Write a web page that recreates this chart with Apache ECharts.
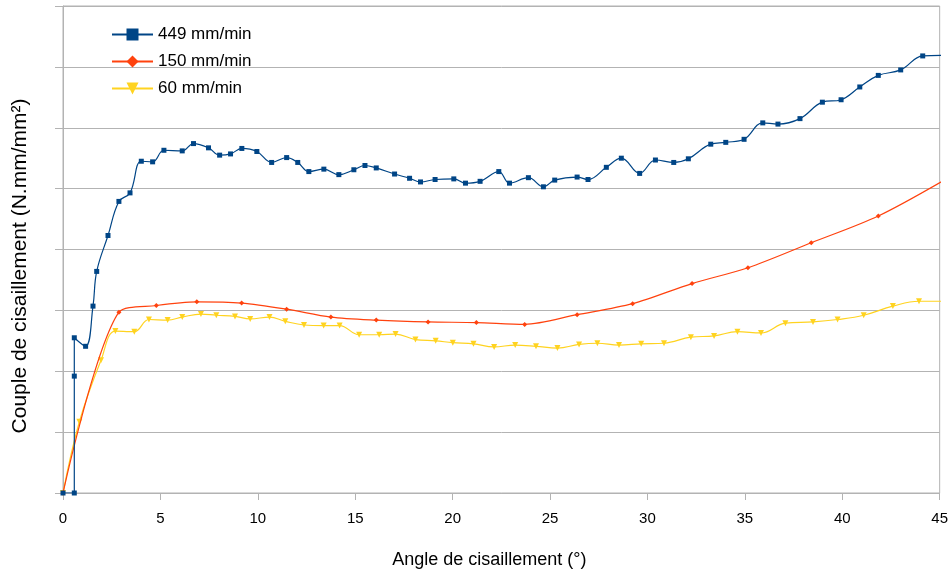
<!DOCTYPE html>
<html>
<head>
<meta charset="UTF-8">
<title>Couple de cisaillement</title>
<style>
    body { margin: 0; background: #ffffff; }
    #main { width: 951px; height: 574px; }
</style>
<script src="https://cdn.jsdelivr.net/npm/echarts@6/dist/echarts.min.js"></script>
</head>
<body>
<div id="main"></div>
<script type="text/javascript">
// angle (°) and couple values, one pair of arrays per speed
var seriesNames = ['449 mm/min', '150 mm/min', '60 mm/min'];
var xTicks = [0, 5, 10, 15, 20, 25, 30, 35, 40, 45];

var angle449 = [0, 0.58, 0.58, 0.58, 1.16, 1.54, 1.73, 2.31, 2.87, 3.44, 4.02, 4.60, 5.18, 6.12, 6.70, 7.47, 8.04, 8.60, 9.18, 9.95,
    10.71, 11.48, 12.05, 12.62, 13.39, 14.16, 14.93, 15.50, 16.08, 17.02, 17.79, 18.35, 19.10, 20.06, 20.66, 21.41, 22.37, 22.92, 23.89, 24.66,
    25.24, 26.39, 26.95, 27.89, 28.66, 29.60, 30.41, 31.35, 32.10, 33.25, 34.02, 34.96, 35.92, 36.70, 37.83, 38.98, 39.94, 40.90, 41.85, 43.00,
    44.13, 45.3];
var couple449 = [0, 0, 1.92, 2.55, 2.41, 3.07, 3.64, 4.23, 4.79, 4.93, 5.45, 5.44, 5.63, 5.62, 5.74, 5.67, 5.55, 5.57, 5.66, 5.61,
    5.43, 5.51, 5.43, 5.28, 5.32, 5.23, 5.31, 5.38, 5.34, 5.24, 5.17, 5.11, 5.15, 5.16, 5.09, 5.12, 5.28, 5.09, 5.18, 5.03,
    5.14, 5.19, 5.15, 5.35, 5.50, 5.25, 5.47, 5.43, 5.49, 5.73, 5.76, 5.81, 6.08, 6.06, 6.15, 6.42, 6.46, 6.67, 6.86, 6.95,
    7.18, 7.19];

var angle150 = [0, 2.87, 4.79, 6.87, 9.17, 11.48, 13.75, 16.08, 18.74, 21.22, 23.70, 26.39, 29.24, 32.29, 35.16, 38.41, 41.85, 45.4];
var couple150 = [0, 2.97, 3.08, 3.14, 3.12, 3.02, 2.89, 2.84, 2.81, 2.80, 2.77, 2.93, 3.11, 3.44, 3.70, 4.11, 4.55, 5.17];

var angle60 = [0, 0.84, 1.95, 2.69, 3.66, 4.41, 5.37, 6.12, 7.08, 7.87, 8.83, 9.61, 10.60, 11.41, 12.37, 13.38, 14.20, 15.20, 16.23, 17.07,
    18.09, 19.13, 20.01, 21.07, 22.13, 23.21, 24.28, 25.38, 26.49, 27.43, 28.54, 29.68, 30.85, 32.23, 33.42, 34.62, 35.83, 37.08, 38.50, 39.76,
    41.10, 42.60, 43.94, 45.5];
var couple60 = [0, 1.17, 2.18, 2.66, 2.65, 2.85, 2.84, 2.89, 2.94, 2.92, 2.90, 2.86, 2.89, 2.82, 2.76, 2.75, 2.75, 2.60, 2.60, 2.61,
    2.52, 2.50, 2.47, 2.45, 2.40, 2.43, 2.41, 2.38, 2.44, 2.46, 2.43, 2.45, 2.46, 2.56, 2.58, 2.65, 2.63, 2.79, 2.81, 2.85,
    2.92, 3.07, 3.15, 3.15];

function pairs(xs, ys) {
    var out = [];
    for (var i = 0; i < xs.length; i++) {
        out.push([xs[i], ys[i]]);
    }
    return out;
}

var gray = '#b3b3b3';
var myChart = echarts.init(document.getElementById('main'));

var option = {
    backgroundColor: '#ffffff',
    animation: false,
    textStyle: { fontFamily: 'Liberation Sans', color: '#000' },
    grid: {
        left: 63, right: 11, top: 6, bottom: 81,
        show: true, borderColor: gray, borderWidth: 1
    },
    legend: {
        orient: 'vertical',
        left: 106,
        top: 21,
        itemWidth: 41,
        itemHeight: 15,
        itemGap: 10,
        textStyle: { fontSize: 17, color: '#000', fontFamily: 'Liberation Sans' },
        data: [
            { name: seriesNames[0] },
            { name: seriesNames[1] },
            { name: seriesNames[2] }
        ]
    },
    xAxis: {
        type: 'value',
        min: 0, max: 45, interval: 5,
        name: 'Angle de cisaillement (°)',
        nameLocation: 'middle',
        nameGap: 58,
        nameTextStyle: { fontSize: 18, color: '#000', padding: [0, 24, 0, 0] },
        axisLine: { show: true, lineStyle: { color: gray } },
        axisTick: { show: true, length: 7, lineStyle: { color: gray } },
        splitLine: { show: false },
        axisLabel: {
            margin: 18,
            fontSize: 15,
            fontFamily: 'Liberation Sans',
            color: '#000',
            formatter: function (v) { return xTicks.indexOf(v) >= 0 ? String(v) : ''; }
        }
    },
    yAxis: {
        type: 'value',
        min: 0, max: 8, interval: 1,
        name: 'Couple de cisaillement (N.mm/mm²)',
        nameLocation: 'middle',
        nameGap: 32,
        nameTextStyle: { fontSize: 21, color: '#000', padding: [0, 33, 0, 0] },
        axisLine: { show: true, lineStyle: { color: gray } },
        axisTick: { show: true, length: 8, lineStyle: { color: gray } },
        axisLabel: { show: false },
        splitLine: { show: true, lineStyle: { color: gray } }
    },
    series: [
        {
            name: seriesNames[0],
            type: 'line',
            smooth: 0.4,
            symbol: 'rect',
            symbolSize: 5,
            color: '#004586',
            lineStyle: { width: 1.2, color: '#004586' },
            itemStyle: { color: '#004586' },
            data: pairs(angle449, couple449),
            z: 3
        },
        {
            name: seriesNames[1],
            type: 'line',
            smooth: 0.3,
            symbol: 'diamond',
            symbolSize: 5,
            color: '#ff420e',
            lineStyle: { width: 1.2, color: '#ff420e' },
            itemStyle: { color: '#ff420e' },
            data: pairs(angle150, couple150),
            z: 2
        },
        {
            name: seriesNames[2],
            type: 'line',
            smooth: 0.4,
            symbol: 'triangle',
            symbolRotate: 180,
            symbolSize: 6,
            color: '#ffd320',
            lineStyle: { width: 1.2, color: '#ffd320' },
            itemStyle: { color: '#ffd320' },
            data: pairs(angle60, couple60),
            z: 1
        }
    ]
};
myChart.setOption(option);
</script>
</body>
</html>
